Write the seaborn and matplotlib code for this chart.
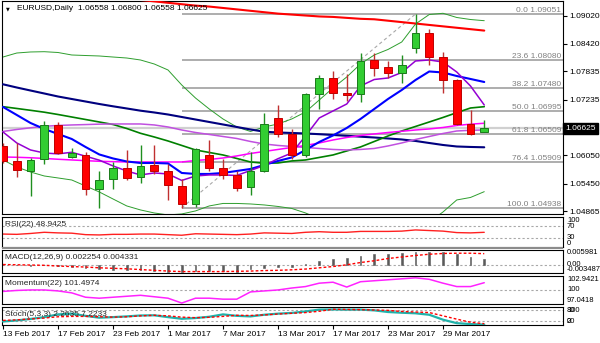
import matplotlib
matplotlib.use("Agg")
import matplotlib.pyplot as plt
from matplotlib.patches import Rectangle
import numpy as np
import pandas as pd
import seaborn as sns

# ---------------- data ----------------
dates = pd.bdate_range("2017-02-13", "2017-04-03")   # 36 daily bars

open_ = [1.0625, 1.0594, 1.0572, 1.0597, 1.0670, 1.0601, 1.0606, 1.0533, 1.0554, 1.0578,
         1.0559, 1.0584, 1.0573, 1.0541, 1.0501, 1.0606, 1.0578, 1.0564, 1.0537, 1.0572,
         1.0684, 1.0651, 1.0605, 1.0735, 1.0770, 1.0737, 1.0735, 1.0808, 1.0792, 1.0781,
         1.0834, 1.0864, 1.0813, 1.0765, 1.0671, 1.06558]
high = [1.0632, 1.0631, 1.0600, 1.0679, 1.0675, 1.0621, 1.0613, 1.0572, 1.0592, 1.0617,
        1.0627, 1.0627, 1.0587, 1.0555, 1.0621, 1.0638, 1.0597, 1.0571, 1.0613, 1.0696,
        1.0712, 1.0661, 1.0738, 1.0776, 1.0785, 1.0778, 1.0822, 1.0823, 1.0806, 1.0818,
        1.09051, 1.0873, 1.0825, 1.0767, 1.0702, 1.06800]
low = [1.0588, 1.0559, 1.0518, 1.0587, 1.0608, 1.0599, 1.0521, 1.0494, 1.0533, 1.0553,
       1.0547, 1.0566, 1.0511, 1.04938, 1.0496, 1.0571, 1.0555, 1.0530, 1.0521, 1.0570,
       1.0645, 1.0598, 1.0602, 1.0703, 1.0724, 1.0721, 1.0719, 1.0774, 1.0769, 1.0759,
       1.0822, 1.0798, 1.0737, 1.0670, 1.0649, 1.06558]
close = [1.0593, 1.0574, 1.0595, 1.0670, 1.0610, 1.0610, 1.0533, 1.0553, 1.0578, 1.0558,
         1.0583, 1.0572, 1.0542, 1.0501, 1.0618, 1.0578, 1.0564, 1.0535, 1.0572, 1.0671,
         1.0650, 1.0605, 1.0735, 1.0770, 1.0737, 1.0733, 1.0805, 1.0790, 1.0781, 1.0796,
         1.0864, 1.0813, 1.0765, 1.0671, 1.0650, 1.06625]

ma_red = [1.0965, 1.0962, 1.0959, 1.0956, 1.0953, 1.0950, 1.0947, 1.0944, 1.0941, 1.0938,
          1.0935, 1.0932, 1.0929, 1.0926, 1.0923, 1.0921, 1.0918, 1.0915, 1.0912, 1.0909,
          1.0906, 1.0904, 1.0902, 1.0900, 1.0899, 1.0897, 1.0895, 1.0894, 1.0891, 1.0888,
          1.0885, 1.0882, 1.0879, 1.0876, 1.0873, 1.0870]
ma_navy = [1.07560, 1.07492, 1.07428, 1.07365, 1.07301, 1.07248, 1.07195, 1.07142, 1.07093, 1.07047,
           1.07000, 1.06962, 1.06919, 1.06866, 1.06813, 1.06760, 1.06707, 1.06654, 1.06601, 1.06554,
           1.06537, 1.06527, 1.06516, 1.06501, 1.06484, 1.06467, 1.06448, 1.06431, 1.06410, 1.06389,
           1.06357, 1.06314, 1.06272, 1.06240, 1.06230, 1.06223]
ma_green = [1.07085, 1.07047, 1.07008, 1.06968, 1.06919, 1.06866, 1.06813, 1.06760, 1.06707, 1.06622,
            1.06520, 1.06442, 1.06357, 1.06262, 1.06166, 1.06113, 1.06060, 1.05986, 1.05911, 1.05884,
            1.05890, 1.05933, 1.05954, 1.06007, 1.06060, 1.06145, 1.06230, 1.06346, 1.06463, 1.06569,
            1.06665, 1.06760, 1.06856, 1.06958, 1.07057, 1.07085]
ma_blue = [1.07079, 1.06909, 1.06739, 1.06612, 1.06506, 1.06399, 1.06230, 1.06071, 1.05986, 1.05922,
           1.05890, 1.05890, 1.05880, 1.05678, 1.05657, 1.05657, 1.05678, 1.05720, 1.05763, 1.05848,
           1.05933, 1.06007, 1.06166, 1.06336, 1.06474, 1.06633, 1.06824, 1.07036, 1.07248, 1.07439,
           1.07651, 1.07832, 1.07811, 1.07736, 1.07673, 1.07609]
ma_purple = [1.06548, 1.06315, 1.06166, 1.06102, 1.06083, 1.06117, 1.06034, 1.05950, 1.05827, 1.05720,
             1.05636, 1.05678, 1.05657, 1.05519, 1.05614, 1.05636, 1.05636, 1.05625, 1.05731, 1.05837,
             1.05981, 1.06102, 1.06463, 1.06845, 1.06994, 1.07142, 1.07524, 1.07662, 1.07694, 1.07811,
             1.08055, 1.08076, 1.08033, 1.07821, 1.07524, 1.07121]
ma_pink = [1.06017, 1.06011, 1.06001, 1.05986, 1.05969, 1.05954, 1.05939, 1.05926, 1.05918, 1.05911,
           1.05911, 1.05911, 1.05911, 1.05911, 1.05943, 1.05964, 1.05996, 1.06039, 1.06092, 1.06134,
           1.06177, 1.06219, 1.06262, 1.06315, 1.06378, 1.06431, 1.06474, 1.06506, 1.06537, 1.06563,
           1.06590, 1.06612, 1.06643, 1.06686, 1.06714, 1.06733]
ma_orchid = [1.06559, 1.06601, 1.06637, 1.06669, 1.06686, 1.06697, 1.06705, 1.06714, 1.06718, 1.06718,
             1.06718, 1.06697, 1.06654, 1.06590, 1.06537, 1.06495, 1.06452, 1.06410, 1.06346, 1.06293,
             1.06262, 1.06240, 1.06219, 1.06198, 1.06177, 1.06166, 1.06177, 1.06198, 1.06251, 1.06315,
             1.06389, 1.06452, 1.06516, 1.06569, 1.06584, 1.06590]
bb_upper = [1.08139, 1.08224, 1.08246, 1.08252, 1.08235, 1.08182, 1.08171, 1.08161, 1.08139, 1.08118,
            1.08076, 1.07991, 1.07864, 1.07545, 1.07269, 1.07036, 1.06824, 1.06654, 1.06559, 1.06654,
            1.06718, 1.06824, 1.06972, 1.07227, 1.07482, 1.07715, 1.07991, 1.08182, 1.08299, 1.08458,
            1.08840, 1.09041, 1.09067, 1.08978, 1.08935, 1.08910]
bb_lower = [1.05954, 1.05805, 1.05699, 1.05614, 1.05572, 1.05529, 1.05402, 1.05275, 1.05126, 1.04978,
            1.04893, 1.04829, 1.04787, 1.04808, 1.04872, 1.04978, 1.05031, 1.05031, 1.05020, 1.04999,
            1.04967, 1.04925, 1.04829, 1.04702, 1.04596, 1.04532, 1.04468, 1.04426, 1.04405, 1.04447,
            1.04511, 1.04638, 1.04850, 1.05105, 1.05158, 1.05281]

fib_levels = [0.0, 23.6, 38.2, 50.0, 61.8, 76.4, 100.0]
fib_prices = [1.09051, 1.08080, 1.07480, 1.06995, 1.06509, 1.05909, 1.04938]
fib_anchor_bars = [13, 30]          # swing low bar, swing high bar

price_ticks = [1.09020, 1.08420, 1.07835, 1.07235, 1.06050, 1.05450, 1.04865]
bid = 1.06625

rsi = [43, 42, 45, 49, 47, 46, 41, 40, 42, 42, 43, 43, 41, 39, 44, 43, 42, 41, 43, 47,
       46, 45, 49, 51, 49, 49, 52, 52, 52, 53, 57, 55, 53, 48, 47, 48.9425]
macd_main = [-0.0001, -0.0003, -0.0004, -0.0002, -0.0004, -0.0009, -0.0014, -0.0018, -0.0021, -0.0021,
             -0.0021, -0.0025, -0.0028, -0.0028, -0.0025, -0.0025, -0.0024, -0.0028, -0.0018, -0.0014,
             -0.0010, -0.0008, 0.0002, 0.0015, 0.0021, 0.0025, 0.0034, 0.0041, 0.0042, 0.0047,
             0.0051, 0.0051, 0.0049, 0.0041, 0.0028, 0.002254]
macd_signal = [0.0000, -0.0001, -0.0002, -0.0003, -0.0006, -0.0008, -0.0010, -0.0013, -0.0015, -0.0017,
               -0.0020, -0.0023, -0.0026, -0.0028, -0.0028, -0.0028, -0.0028, -0.0027, -0.0026, -0.0024,
               -0.0023, -0.0021, -0.0018, -0.0013, -0.0008, -0.0001, 0.0008, 0.0015, 0.0024, 0.0030,
               0.0036, 0.0041, 0.0044, 0.0045, 0.0045, 0.004331]
momentum = [99.7, 99.9, 100.0, 100.0, 99.8, 99.4, 98.5, 98.3, 98.5, 98.7, 98.9, 98.6, 98.3, 97.3,
            98.3, 98.3, 98.1, 98.1, 99.6, 99.8, 100.0, 100.4, 100.7, 101.4, 101.6, 100.6, 101.7,
            101.9, 102.1, 102.3, 102.5, 102.2, 101.4, 100.7, 100.7, 101.4974]
stoch_k = [19, 25, 33, 43, 58, 62, 50, 40, 43, 47, 52, 53, 43, 34, 38, 45, 58, 50, 47, 56,
           62, 66, 74, 84, 85, 84, 84, 80, 71, 67, 64, 56, 29, 10, 5, 2.2635]
stoch_d = [25, 28, 33, 38, 45, 47, 47, 45, 43, 45, 50, 53, 50, 43, 40, 42, 47, 53, 52, 55,
           60, 64, 68, 75, 86, 85, 84, 82, 80, 74, 71, 68, 50, 32, 15, 7.2233]

# ---------------- styling ----------------
sns.set_theme(style="white")
plt.rcParams["font.family"] = ["Liberation Sans", "DejaVu Sans"]
FS = 6
FS_SIDE = 5.5

W, H = 600, 343
LEFT, RIGHT = 2, 563
X0, STEP = 3, 13.75                     # pixel centre of first bar, bar spacing
fig = plt.figure(figsize=(W / 100, H / 100), dpi=100)
fig.patch.set_facecolor("white")

x = np.arange(len(close))
xlim = ((LEFT - X0) / STEP, (RIGHT - X0) / STEP)


def panel(top, bottom):
    ax = fig.add_axes([LEFT / W, 1 - bottom / H, (RIGHT - LEFT) / W, (bottom - top) / H])
    ax.set_facecolor("white")
    for s in ax.spines.values():
        s.set_color("black")
        s.set_linewidth(0.8)
    ax.set_xlim(*xlim)
    ax.set_xticks([])
    ax.set_yticks([])
    ax.set_xlabel("")
    ax.set_ylabel("")
    return ax


def line(ax, vals, color, lw, **kw):
    sns.lineplot(x=x, y=np.asarray(vals, float), ax=ax, color=color, linewidth=lw,
                 estimator=None, sort=False, legend=False, **kw)
    ax.set_xlabel("")
    ax.set_ylabel("")


def side_label(ax, y, txt, va):
    ax.text(1 + 4 / (RIGHT - LEFT), y, txt, transform=ax.get_yaxis_transform(),
            fontsize=FS_SIDE, ha="left", va=va, color="black", clip_on=False)


# ---------------- main price panel ----------------
ax = panel(1, 214)
ax.set_ylim(1.04807, 1.09328)

# fibonacci retracement
for lvl, p in zip(fib_levels, fib_prices):
    ax.hlines(p, fib_anchor_bars[0], xlim[1], color="#a0a0a0", lw=1.2, zorder=1)
    ax.text(1 - 2 / (RIGHT - LEFT), p, f"{lvl:.1f} {p:.5f}", transform=ax.get_yaxis_transform(),
            fontsize=FS, color="#808080", ha="right", va="bottom", zorder=6)
ax.plot(fib_anchor_bars, [fib_prices[-1], fib_prices[0]], color="#a8a8a8", lw=0.8,
        ls=(0, (3, 2.5)), zorder=1)

# bid line
ax.axhline(bid, color="#d0d0d0", lw=1.6, zorder=1)

# Bollinger envelopes and moving averages
line(ax, bb_upper, "#2e9e2e", 0.7, zorder=2)
line(ax, bb_lower, "#2e9e2e", 0.7, zorder=2)
line(ax, ma_red, "#ff0000", 1.5, zorder=3)
line(ax, ma_navy, "#00007f", 1.5, zorder=3)
line(ax, ma_green, "#008000", 1.2, zorder=3)
line(ax, ma_orchid, "#c050e0", 1.1, zorder=3)
line(ax, ma_pink, "#ff00ff", 1.1, zorder=3)
line(ax, ma_blue, "#0000ff", 1.5, zorder=3)
line(ax, ma_purple, "#9400d3", 1.1, zorder=3)

# candles
for i, (o, h, l, c) in enumerate(zip(open_, high, low, close)):
    bull = c >= o
    wick = "#1f8f1f" if bull else "#c03030"
    body = "#32cd32" if bull else "#ff0000"
    edge = "#1a7a1a" if bull else "#c00000"
    ax.vlines(i, l, h, color=wick, lw=1.0, zorder=4)
    hgt = max(abs(c - o), 0.00006)
    ax.bar(i, hgt, bottom=min(o, c), width=0.58, color=body, edgecolor=edge, linewidth=0.7, zorder=5)

ax.yaxis.tick_right()
ax.set_yticks(price_ticks)
ax.set_yticklabels([f"{v:.5f}" for v in price_ticks])
ax.tick_params(axis="y", length=3, width=0.8, pad=1.5, labelsize=FS, colors="black", right=True)
ax.text(1 + 2 / (RIGHT - LEFT), bid, "1.06625", transform=ax.get_yaxis_transform(),
        fontsize=FS, color="white", ha="left", va="center", clip_on=False,
        bbox=dict(boxstyle="square,pad=0.25", fc="black", ec="black"))
ax.text(0.007, 1 - 7.5 / 213, "\u25bc", transform=ax.transAxes, fontsize=3.5,
        family="DejaVu Sans", va="center", ha="left", color="black")
ax.text(0.027, 1 - 7.5 / 213, "EURUSD,Daily  1.06558 1.06800 1.06558 1.06625",
        transform=ax.transAxes, fontsize=FS, va="center", ha="left", color="black")

dash = dict(color="#a8a8a8", lw=0.8, ls=(0, (2, 2)))

# ---------------- RSI ----------------
ax_rsi = panel(217.3, 246.7)
ax_rsi.set_ylim(0, 100)
for lv in (70, 30):
    ax_rsi.axhline(lv, **dash)
line(ax_rsi, rsi, "#ff2020", 1.0)
ax_rsi.text(0.005, 0.74, f"RSI(22) {rsi[-1]:.4f}", transform=ax_rsi.transAxes, fontsize=FS, va="center")
side_label(ax_rsi, 100, "100", "top")
side_label(ax_rsi, 70, "70", "center")
side_label(ax_rsi, 30, "30", "center")
side_label(ax_rsi, 0, "0", "bottom")

fig.patches.append(Rectangle((LEFT / W, 1 - 249.4 / H), (RIGHT - LEFT) / W, 2.0 / H,
                             transform=fig.transFigure, fc="#8c8c8c", ec="none"))

# ---------------- MACD ----------------
ax_macd = panel(249.5, 273.3)
macd_lo, macd_hi = -0.003487, 0.005981
ax_macd.set_ylim(macd_lo, macd_hi)
ax_macd.axhline(0, **dash)
ax_macd.bar(x, macd_main, width=0.11, color="#5a5a5a", edgecolor="#5a5a5a", linewidth=0.4, zorder=2)
line(ax_macd, macd_signal, "#ff0000", 1.0, zorder=3, linestyle=(0, (2, 1.5)))
ax_macd.text(0.005, 0.672, f"MACD(12,26,9) {macd_main[-1]:.6f} {macd_signal[-1]:.6f}",
             transform=ax_macd.transAxes, fontsize=FS, va="center")
side_label(ax_macd, macd_hi, f"{macd_hi:.6f}", "top")
side_label(ax_macd, 0, "0.00", "center")
side_label(ax_macd, macd_lo, f"{macd_lo:.6f}", "bottom")

# ---------------- Momentum ----------------
ax_mom = panel(275.7, 304.3)
mom_lo, mom_hi = 97.0418, 102.9421
ax_mom.set_ylim(mom_lo, mom_hi)
ax_mom.axhline(100, **dash)
line(ax_mom, momentum, "#ff22ff", 1.1)
ax_mom.text(0.005, 0.71, f"Momentum(22) {momentum[-1]:.4f}", transform=ax_mom.transAxes,
            fontsize=FS, va="center")
side_label(ax_mom, mom_hi, f"{mom_hi:.4f}", "top")
side_label(ax_mom, 100, "100", "center")
side_label(ax_mom, mom_lo, f"{mom_lo:.4f}", "bottom")

# ---------------- Stochastic ----------------
ax_st = panel(306.7, 325.0)
ax_st.set_ylim(0, 100)
for lv in (80, 20):
    ax_st.axhline(lv, **dash)
line(ax_st, stoch_k, "#20b2aa", 1.6, zorder=3)
line(ax_st, stoch_d, "#ff0000", 1.0, zorder=4, linestyle=(0, (2, 1.5)))
ax_st.text(0.005, 0.585, f"Stoch(5,3,3) {stoch_k[-1]:.4f} {stoch_d[-1]:.4f}",
           transform=ax_st.transAxes, fontsize=FS, va="center")
side_label(ax_st, 100, "100", "top")
side_label(ax_st, 80, "80", "center")
side_label(ax_st, 20, "20", "center")
side_label(ax_st, 0, "0", "bottom")

# date axis
tick_idx = list(range(0, len(dates), 4))
ax_st.set_xticks(tick_idx)
ax_st.set_xticklabels([f"{d.day} {d.strftime('%b %Y')}" for d in dates[tick_idx]],
                      ha="left", fontsize=FS)
ax_st.tick_params(axis="x", length=3, width=0.8, pad=1, colors="black", bottom=True)
for lab in ax_st.get_xticklabels():
    lab.set_horizontalalignment("left")

fig.savefig("out.png", dpi=100, facecolor="white")
